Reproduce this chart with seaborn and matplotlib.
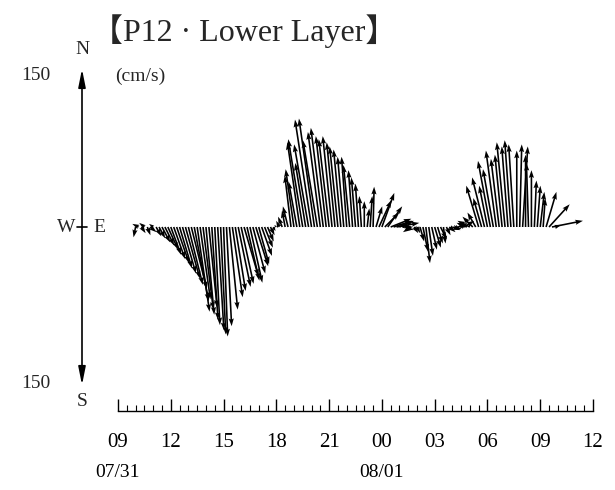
import numpy as np
import pandas as pd
import matplotlib
matplotlib.use("Agg")
import matplotlib.pyplot as plt
import seaborn as sns

# ---------------- data (10-min current vectors, cm/s) ----------------
start_hour = 10.0          # 07/31 10:00  (hours counted from 07/31 09:00 -> 1.0)
step_min = 10
north_v = [-10, 3, -6, 4, -8, -5, 3, -9, -11, -15, -18, -22, -27, -31, -35, -40, -45, -50,
           -56, -60, -72, -82, -70, -80, -85, -78, -90, -95, -100, -104, -106, -96, -80, -68,
           -62, -58, -55, -48, -52, -54, -45, -38, -36, -28, -20, -14, -8, -4, 2,
           6, 10, 16, 20, 50, 56, 44, 82, 85, 62, 80, 104, 105, 84, 92, 96, 88, 85, 88, 82,
           78, 75, 68, 68, 60, 55, 48, 42, 30, 25, 18, 30, 39, 20, 26, 33, 14, 20, 8, 6, 4,
           6, 0, -3, 3, -5, -6,
           -6, -14, -24, -35, -28, -22, -20, -16, -12, -16, -8, -5, -3, -2, 3, 4, 6, 4,
           6, 10, 14, 40, 28, 48, 40, 64, 56, 74, 66, 70, 82, 78, 84, 80, 74, 80, 78, 70,
           62, 55, 45, 40, 34, 28, 34, 22, 6, 2]
east_u = [-2, -6, 4, -5, 3, 6, -4, 5, 6, 8, 9, 10, 10, 11, 12, 12, 13, 14,
          14, 15, 14, 12, 10, 10, 8, 8, 6, 5, 6, 5, 4, 5, 8, 10,
          10, 12, 12, 14, 12, 12, 12, 12, 10, 10, 8, 6, 4, 2, -2,
          -3, -4, -3, -5, -6, -8, -8, -12, -14, -10, -14, -16, -15, -14, -12, -12, -10, -10, -9, -8,
          -8, -7, -6, -5, -6, -4, -4, -3, -2, 0, 2, 2, 1, 6, 12, 12, 14, 14, 20, 18, 22,
          14, 10, 8, -10, -8, 4,
          3, 4, 5, 4, 4, 5, 6, 5, 6, 2, 4, 6, 8, 6, 8, 6, 10, -10,
          -12, -10, -8, -12, -8, -12, -8, -12, -10, -10, -8, -7, -8, -6, -6, -5, 0, 2, 5, 0,
          -2, 0, 2, 3, 4, 2, 10, 20, 30, 6]

tick_labels = ["09", "12", "15", "18", "21", "00", "03", "06", "09", "12"]
date_labels = ["07/31", "08/01"]

n = len(north_v)
df = pd.DataFrame({
    "hours": (start_hour - 9.0) + np.arange(n) * step_min / 60.0,
    "u": east_u,
    "v": north_v,
})
df["zero"] = 0.0

# ---------------- figure ----------------
sns.set_theme(style="white")
plt.rcParams["font.family"] = ["Liberation Serif", "DejaVu Serif"]

W, H = 615, 490
fig = plt.figure(figsize=(W / 100, H / 100), dpi=100)

# pixel geometry
x0_px, x1_px = 118, 593          # 09:00 .. 12:00 next day
axis_y_px, top_px = 411, 60
zero_px = 227
pxu = 1.033                      # pixels per cm/s
ylo = -(axis_y_px - zero_px) / pxu
yhi = (zero_px - top_px) / pxu

ax = fig.add_axes([x0_px / W, (H - axis_y_px) / H,
                   (x1_px - x0_px) / W, (axis_y_px - top_px) / H])
ax.set_xlim(0, 27)
ax.set_ylim(ylo, yhi)
ax.set_facecolor("none")

ax.quiver(df["hours"], df["zero"], df["u"], df["v"],
          angles="uv", scale_units="y", scale=1,
          width=0.0034, headwidth=3.2, headlength=4.8, headaxislength=4.2,
          color="black", zorder=3)

sns.despine(ax=ax, left=True, top=True, right=True)
ax.spines["bottom"].set_color("black")
ax.spines["bottom"].set_linewidth(1.0)
ax.set_yticks([])
ax.set_xticks(np.arange(0, 28, 3))
ax.set_xticks(np.arange(0, 27.01, 0.5), minor=True)
ax.set_xticklabels(tick_labels)
ax.tick_params(axis="x", which="major", direction="in", length=9, width=1.0,
               color="black", pad=16, labelsize=15, labelcolor="black", bottom=True)
ax.tick_params(axis="x", which="minor", direction="in", length=4, width=0.8,
               color="black", bottom=True)
ax.set_xlabel("")
ax.set_ylabel("")

# date labels under 09 (07/31) and 00 (08/01)
for xd, lab in zip([0, 15], date_labels):
    ax.annotate(lab, xy=(xd, 0), xycoords=("data", "axes fraction"),
                xytext=(0, -61), textcoords="offset pixels",
                ha="center", va="center", fontsize=14, color="black")

# ---------------- decoration overlay in pixel coordinates ----------------
deco = fig.add_axes([0, 0, 1, 1])
deco.set_xlim(0, W)
deco.set_ylim(H, 0)
deco.axis("off")
deco.patch.set_alpha(0)

cx = 82
arrow_kw = dict(arrowstyle="-|>,head_length=0.9,head_width=0.18",
                color="black", lw=1.2, shrinkA=0, shrinkB=0)
deco.annotate("", xy=(cx, 69), xytext=(cx, zero_px), arrowprops=arrow_kw)
deco.annotate("", xy=(cx, 385), xytext=(cx, zero_px), arrowprops=arrow_kw)
deco.plot([cx - 5, cx + 5], [zero_px, zero_px], color="black", lw=1.2)

deco.text(cx, 50, "N", ha="center", va="center", fontsize=14)
deco.text(cx, 401, "S", ha="center", va="center", fontsize=14)
deco.text(66, zero_px, "W", ha="center", va="center", fontsize=14)
deco.text(99, zero_px, "E", ha="center", va="center", fontsize=14)
deco.text(36, 75, "150", ha="center", va="center", fontsize=14)
deco.text(36, 383, "150", ha="center", va="center", fontsize=14)
deco.text(140, 76, "(cm/s)", ha="center", va="center", fontsize=14)
deco.text(244, 31, "【P12 · Lower Layer】", ha="center", va="center", fontsize=23,
          family=["Liberation Serif", "Noto Sans CJK JP"])

fig.savefig("out.png", dpi=100, facecolor="white")
